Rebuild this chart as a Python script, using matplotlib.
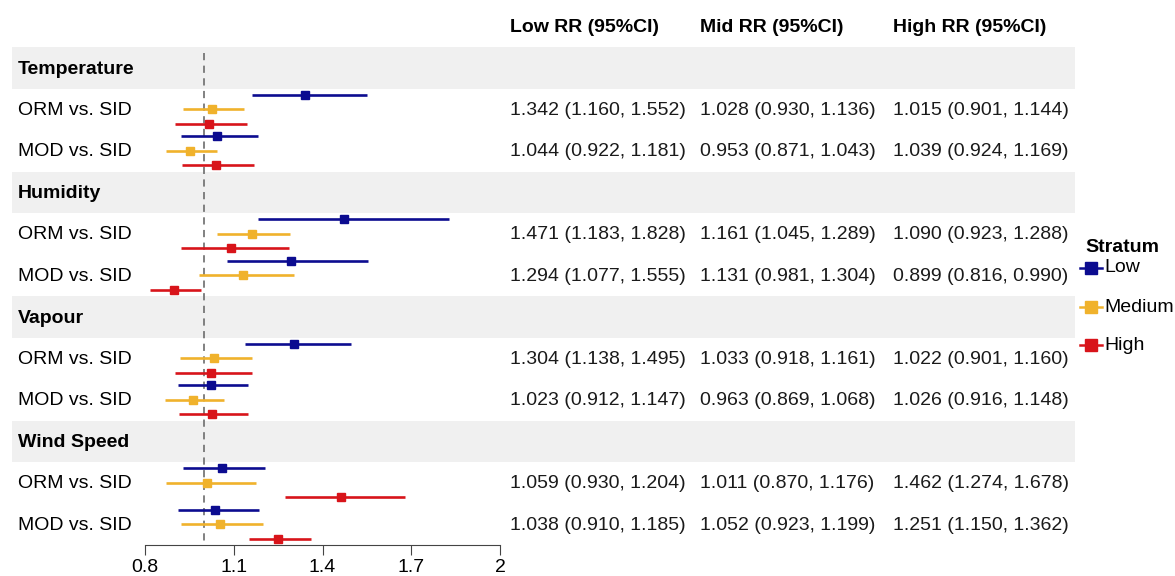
#!/usr/bin/env python3
# -*- coding: utf-8 -*-

import matplotlib
matplotlib.use("Agg")
import matplotlib.pyplot as plt
import matplotlib.transforms as mtransforms
from matplotlib.lines import Line2D
from matplotlib.patches import Rectangle

plt.rcParams['font.family'] = ['Liberation Sans', 'DejaVu Sans']
plt.rcParams['font.size'] = 14

# Data
groups = ['Temperature', 'Humidity', 'Vapour', 'Wind Speed']
comparisons = ['ORM vs. SID', 'MOD vs. SID']
strata = ['Low', 'Medium', 'High']
strata_cols = ['Low RR (95%CI)', 'Mid RR (95%CI)', 'High RR (95%CI)']

# one entry per (group, comparison), order as in the table
low_rr = [1.342, 1.044, 1.471, 1.294, 1.304, 1.023, 1.059, 1.038]
low_lo = [1.160, 0.922, 1.183, 1.077, 1.138, 0.912, 0.930, 0.910]
low_hi = [1.552, 1.181, 1.828, 1.555, 1.495, 1.147, 1.204, 1.185]

mid_rr = [1.028, 0.953, 1.161, 1.131, 1.033, 0.963, 1.011, 1.052]
mid_lo = [0.930, 0.871, 1.045, 0.981, 0.918, 0.869, 0.870, 0.923]
mid_hi = [1.136, 1.043, 1.289, 1.304, 1.161, 1.068, 1.176, 1.199]

high_rr = [1.015, 1.039, 1.090, 0.899, 1.022, 1.026, 1.462, 1.251]
high_lo = [0.901, 0.924, 0.923, 0.816, 0.901, 0.916, 1.274, 1.150]
high_hi = [1.144, 1.169, 1.288, 0.990, 1.160, 1.148, 1.678, 1.362]

xticks = [0.8, 1.1, 1.4, 1.7, 2]
xticklabels = ['0.8', '1.1', '1.4', '1.7', '2']

colors = ['#0c0c90', '#f0b22c', '#d8141a']
offsets = [-0.35, 0.0, 0.35]
series = [(low_rr, low_lo, low_hi), (mid_rr, mid_lo, mid_hi), (high_rr, high_lo, high_hi)]

W, H = 1175, 576
fig = plt.figure(figsize=(W / 100, H / 100), dpi=100)
ax = fig.add_axes([145 / W, 1 - 545 / H, 355 / W, (545 - 47) / H])

# row layout: header row then two comparison rows per group
header_y = []
row_y = []
r = 0
for g in groups:
    header_y.append(r)
    r += 1
    for c in comparisons:
        row_y.append(r)
        r += 1
nrows = r

ax.set_xlim(0.8, 2.0)
ax.set_ylim(nrows - 0.5, -0.5)

fx = mtransforms.blended_transform_factory(fig.transFigure, ax.transData)

# grey header bands + group names
for g, y in zip(groups, header_y):
    ax.add_patch(Rectangle((12 / W, y - 0.5), (1075 - 12) / W, 1.0, transform=fx,
                           facecolor='#f0f0f0', edgecolor='none', clip_on=False, zorder=0))
    ax.text(18 / W, y + 0.04, g, transform=fx, fontweight='bold', va='center', ha='left')

# row labels
for i, y in enumerate(row_y):
    ax.text(18 / W, y + 0.03, comparisons[i % 2], transform=fx, va='center', ha='left')

# reference line
ax.vlines(1.0, -0.35, nrows - 0.5, colors='#777777', linestyles=(0, (4, 3)), lw=1.3, zorder=1)

# forest lines
for (rr, lo, hi), col, off in zip(series, colors, offsets):
    for i, y in enumerate(row_y):
        ax.plot([lo[i], hi[i]], [y + off, y + off], color=col, lw=1.9, solid_capstyle='butt',
                zorder=3, clip_on=False)
        ax.plot(rr[i], y + off, marker='s', color=col, ms=6, zorder=4, clip_on=False)

# table columns
col_x = [510, 700, 893]
for cx, name, (rr, lo, hi) in zip(col_x, strata_cols, series):
    fig.text(cx / W, 1 - 28 / H, name, fontweight='bold', va='center', ha='left')
    for i, y in enumerate(row_y):
        ax.text(cx / W, y + 0.03, f"{rr[i]:.3f} ({lo[i]:.3f}, {hi[i]:.3f})", transform=fx,
                va='center', ha='left', color='#1a1a1a')

# axis styling
for s in ['top', 'right', 'left']:
    ax.spines[s].set_visible(False)
ax.spines['bottom'].set_color('#444444')
ax.set_yticks([])
ax.set_xticks(xticks)
ax.set_xticklabels(xticklabels)
ax.tick_params(axis='x', length=7, color='#444444', pad=3, labelsize=14)
ax.patch.set_alpha(0)

# legend, placed by hand
fig.text(1085 / W, 1 - 248 / H, 'Stratum', fontweight='bold', va='center', ha='left')
leg_y = [268, 307, 345]
for lab, col, ly in zip(strata, colors, leg_y):
    yy = 1 - ly / H
    fig.add_artist(Line2D([1080 / W, 1102 / W], [yy, yy], color=col, lw=1.8,
                          transform=fig.transFigure))
    fig.add_artist(Line2D([1091 / W], [yy], color=col, marker='s', ms=8,
                          transform=fig.transFigure))
    fig.text(1104 / W, yy, lab, va='center', ha='left')

fig.savefig('out.png', dpi=100, facecolor='white')
